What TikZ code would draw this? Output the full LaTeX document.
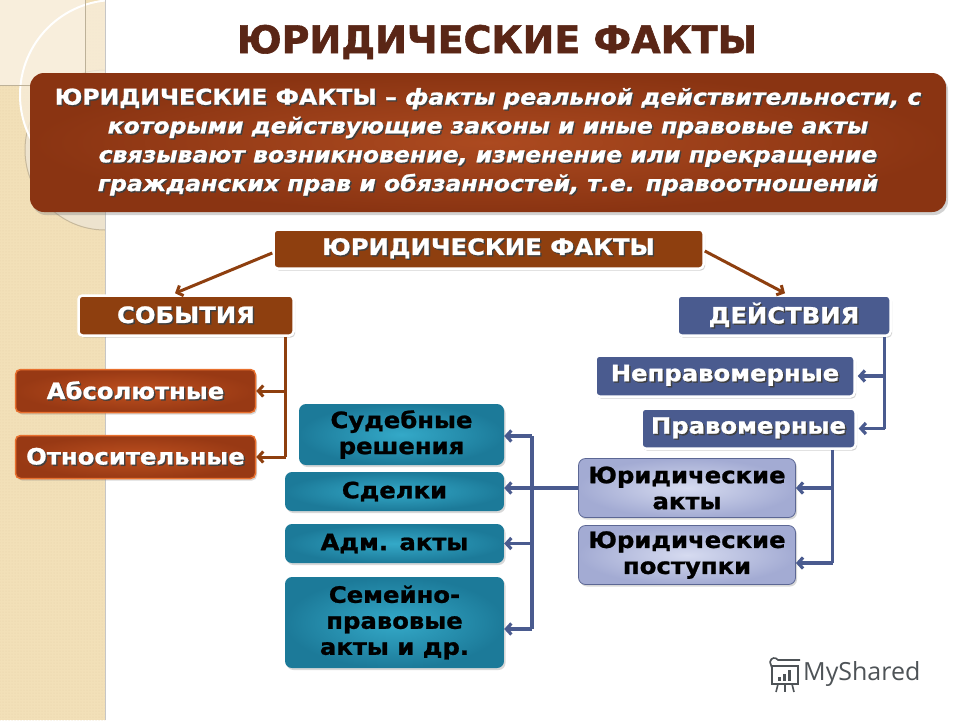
\documentclass[tikz,border=0pt]{standalone}
\usepackage{fontspec}
\setmainfont{DejaVu Sans}
\newfontfamily\hv{DejaVu Sans}[FakeStretch=1.08, FakeBold=1]
\newfontfamily\hvt{DejaVu Sans}[FakeBold=1.5]
\newfontfamily\logofont{Open Sans}
\usetikzlibrary{arrows.meta,shadows,calc,patterns}
\definecolor{brn}{HTML}{8E3F0F}
\definecolor{brnL}{HTML}{AC4A20}
\definecolor{brnD}{HTML}{8A3412}
\definecolor{titlec}{HTML}{5A2616}
\definecolor{bluN}{HTML}{4A5B8F}
\definecolor{lavL}{HTML}{D6DBF0}
\definecolor{lavD}{HTML}{A3ABD3}
\definecolor{lavB}{HTML}{5C6794}
\definecolor{tealL}{HTML}{34A9C8}
\definecolor{tealD}{HTML}{1C7A99}
\definecolor{beige}{HTML}{F2E0B8}
\definecolor{beigeL}{HTML}{F8EEDC}
\definecolor{beigeD}{HTML}{E6D2A8}
\definecolor{beigeG}{HTML}{EDE3CE}
\definecolor{orL}{HTML}{BE501F}
\definecolor{orD}{HTML}{983914}
\definecolor{orB}{HTML}{E8702E}
\definecolor{logoc}{HTML}{4E5357}
\newcommand{\sht}[1]{\makebox[0pt][l]{\kern1.4pt\raisebox{-1.4pt}{\textcolor{black!75}{#1}}}#1}
\tikzset{
  boxfont/.style={font=\hv\fontsize{22.5}{26}\selectfont\bfseries},
  wbox/.style={rounded corners=4pt, draw=white, line width=2.5pt, text=white, boxfont, inner sep=0pt,
    drop shadow={opacity=.35,shadow xshift=1.5pt,shadow yshift=-2pt}},
  brbox/.style={wbox, fill=brn},
  blbox/.style={wbox, fill=bluN},
  orbox/.style={rounded corners=5pt, draw=orB, line width=1.5pt, inner color=orL, outer color=orD, text=white, boxfont, inner sep=0pt,
    drop shadow={opacity=.3,shadow xshift=1.5pt,shadow yshift=-2pt}},
  tlbox/.style={rounded corners=7pt, inner color=tealL, outer color=tealD, text=black, boxfont, align=center, inner sep=0pt,
    drop shadow={opacity=.3,shadow xshift=1.5pt,shadow yshift=-2pt}},
  lvbox/.style={rounded corners=7pt, draw=lavB, line width=.8pt, inner color=lavL, outer color=lavD, text=black, boxfont, align=center, inner sep=0pt,
    drop shadow={opacity=.3,shadow xshift=1.5pt,shadow yshift=-2pt}},
  bcon/.style={draw=brn, line width=3pt},
  ucon/.style={draw=bluN, line width=3.2pt},
  tipb/.style={-{Straight Barb[length=5pt,width=11pt]}},
}
\begin{document}
\begin{tikzpicture}[x=1pt,y=-1pt]
\useasboundingbox (0,0) rectangle (960,720);
\fill[white] (0,0) rectangle (960,720);
% left decorative strip
\fill[beige] (0,0) rectangle (105,720);
\fill[pattern=dots, pattern color=beigeD] (0,0) rectangle (105,720);
\begin{scope}
  \clip (0,0) rectangle (105,720);
  \fill[beigeL] (0,0) rectangle (85,85);
  \fill[beigeG] (105,150) circle (80);
  \draw[beigeD!70!gray,line width=1pt] (105,150) circle (80);
  \fill[beigeL,opacity=.75] (115,95) circle (95);
  \draw[white,line width=2pt] (115,95) circle (95);
  \draw[beigeD!60!gray,line width=.6pt] (85,0) -- (85,85) -- (0,85);
\end{scope}
\fill[gray!45] (104.5,0) rectangle (106,720);

% title
\node[font=\hvt\fontsize{38}{40}\selectfont\bfseries, text=titlec] (title) at (497,42) {ЮРИДИЧЕСКИЕ ФАКТЫ};

% definition box
\node[rounded corners=14pt, inner color=brnL, outer color=brnD, minimum width=916pt, minimum height=139pt,
  drop shadow={opacity=.35,shadow xshift=2pt,shadow yshift=-3pt}] (def) at (488,142.5) {};
\node[text=white, align=center, font=\hv\fontsize{21.8}{28.8}\selectfont\bfseries] (deftext) at (def.center)
  {\sht{ЮРИДИЧЕСКИЕ ФАКТЫ – {\itshape факты реальной действительности, с}}\\
   \itshape\sht{которыми действующие законы и иные правовые акты}\\
   \itshape\sht{связывают возникновение, изменение или прекращение}\\
   \itshape\sht{гражданских прав и обязанностей, т.е. правоотношений}};

% main nodes
\node[brbox, minimum width=430pt, minimum height=39pt] (top) at (488.5,249) {\sht{ЮРИДИЧЕСКИЕ ФАКТЫ}};
\node[brbox, minimum width=215pt, minimum height=40pt] (sob) at (186,315.5) {\sht{СОБЫТИЯ}};
\node[blbox, minimum width=213pt, minimum height=40pt] (dei) at (784,315.5) {\sht{ДЕЙСТВИЯ}};

\node[orbox, minimum width=240pt, minimum height=43pt] (abs) at (135.5,391) {\sht{Абсолютные}};
\node[orbox, minimum width=240pt, minimum height=43pt] (otn) at (135.5,457) {\sht{Относительные}};

\node[blbox, minimum width=259pt, minimum height=41pt] (nepr) at (725,376) {\sht{Неправомерные}};
\node[blbox, minimum width=214pt, minimum height=40pt] (prav) at (748.5,428.5) {\sht{Правомерные}};

\node[lvbox, minimum width=217pt, minimum height=59pt] (ura) at (687,488) {Юридические\\акты};
\node[lvbox, minimum width=217pt, minimum height=59pt] (urp) at (687,555) {Юридические\\поступки};

\node[tlbox, minimum width=205pt, minimum height=61pt] (sud) at (401.5,434.5) {Судебные\\решения};
\node[tlbox, minimum width=219pt, minimum height=39pt] (sde) at (394.5,491.5) {Сделки};
\node[tlbox, minimum width=219pt, minimum height=39pt] (adm) at (394.5,543.5) {Адм. акты};
\node[tlbox, minimum width=219pt, minimum height=91pt] (sem) at (394.5,622.5) {Семейно-\\правовые\\акты и др.};

% connectors: top level
\draw[bcon,tipb] ($(top.west)+(0,4)$) -- ($(sob.north)+(-11,-1)$);
\draw[bcon,tipb] ($(top.east)+(0,2)$) -- ($(dei.north)+(1,-1)$);

% события
\coordinate (s1) at ($(sob.south east)+(-9,0)$);
\coordinate (s2) at (s1 |- otn.east);
\draw[bcon] (s1) -- (s2);
\draw[bcon,tipb] (s2) -- (otn.east);
\draw[bcon,tipb] (s1 |- abs.east) -- (abs.east);

% действия
\coordinate (d1) at ($(dei.south east)+(-7,0)$);
\coordinate (d2) at (d1 |- prav.east);
\draw[ucon] (d1) -- (d2);
\draw[ucon,tipb] (d2) -- ($(prav.east)+(2,0)$);
\draw[ucon,tipb] (d1 |- nepr.east) -- ($(nepr.east)+(2,0)$);

% правомерные
\coordinate (p1) at ($(prav.south east)+(-24,0)$);
\coordinate (p2) at ($(p1 |- urp.east)+(0,8)$);
\draw[ucon] (p1) -- (p2);
\draw[ucon,tipb] (p2) -- (p2 -| urp.east);
\draw[ucon,tipb] (p1 |- ura.east) -- (ura.east);

% юридические акты
\coordinate (j1) at (532,436);
\coordinate (j2) at (532,629);
\draw[ucon] (ura.west) -- (j1 |- ura.west);
\draw[ucon] (j1) -- (j2);
\draw[ucon,tipb] (j1) -- (j1 -| sud.east);
\draw[ucon,tipb] (j1 |- ura.west) -- (ura.west -| sde.east);
\draw[ucon,tipb] (j1 |- adm.east) -- (adm.east);
\draw[ucon,tipb] (j2) -- (j2 -| sem.east);

% logo
\begin{scope}[draw=logoc, line width=1.6pt]
  \draw (772,666) rectangle (798,684);
  \draw (770,662) .. controls (771,657) and (776,657) .. (778,660) -- (800,660);
  \draw (770,662) -- (772,668);
  \fill[logoc] (778,677) rectangle (781,681);
  \fill[logoc] (783,674) rectangle (786,681);
  \fill[logoc] (788,670) rectangle (791,681);
  \draw (778,684) -- (776,692);
  \draw (785,684) -- (785,692);
  \draw (792,684) -- (794,692);
\end{scope}
\node[font=\logofont\fontsize{25}{28}\selectfont, text=logoc, anchor=west, inner sep=0pt] (logo) at (803,674) {MyShared};
\end{tikzpicture}
\end{document}
